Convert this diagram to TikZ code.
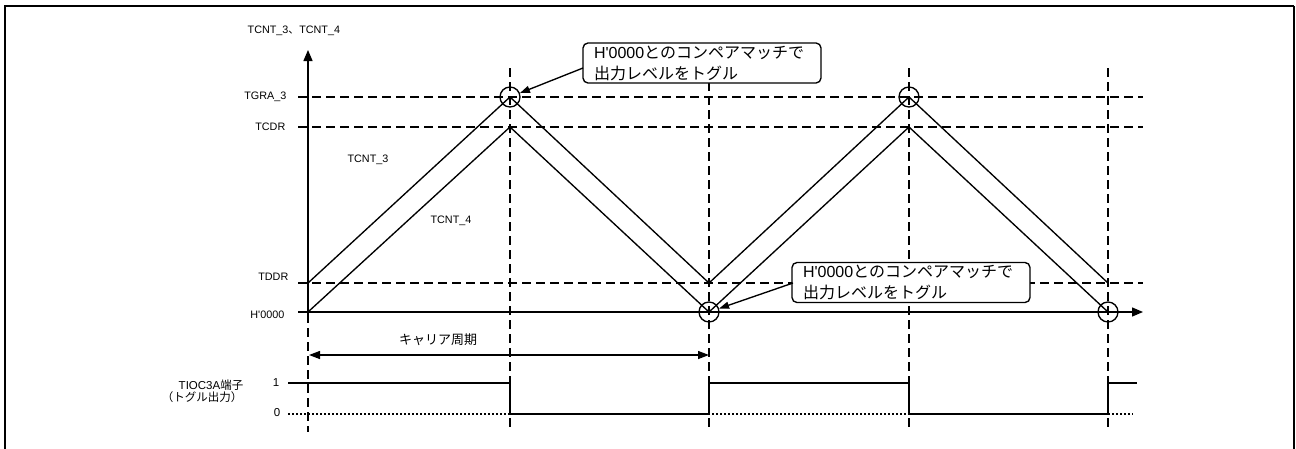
\documentclass[tikz,border=0pt]{standalone}
\usepackage{fontspec}
\setmainfont{Liberation Sans}
\newfontfamily\lat{Liberation Sans}
\newfontfamily\jp{Noto Sans CJK JP}
\usetikzlibrary{arrows.meta}
\begin{document}
\begin{tikzpicture}[x=1pt,y=-1pt,line width=1.35pt,
  dsh/.style={dash pattern=on 9pt off 5pt,line width=1.35pt},
  dotl/.style={dash pattern=on 2pt off 2pt,line width=1.2pt},
  tipa/.style={-{Triangle[length=11pt,width=9pt]}},
  tipb/.style={-{Triangle[length=10pt,width=7pt]}},
  dbl/.style={{Triangle[length=11pt,width=8pt]}-{Triangle[length=11pt,width=8pt]}},
  lbl/.style={font=\fontsize{10.8}{12}\selectfont,inner sep=0pt},
  big/.style={font=\fontsize{11.5}{12}\selectfont,inner sep=0pt},
  call/.style={draw,fill=white,rounded corners=5pt,line width=1.35pt,align=left,
    font=\fontsize{16}{21}\selectfont,text width=216pt,
    minimum height=40pt,inner xsep=11pt,inner ysep=1pt},
  ring/.style={draw,circle,minimum size=20pt,inner sep=0pt,line width=1.35pt}]
\useasboundingbox (0,0) rectangle (1296,448);
\fill[white] (0,0) rectangle (1296,448);
% frame
\draw[line width=2.2pt] (5,449) -- (5,6) -- (1294,6);
\draw[line width=1.3pt] (1294,6) -- (1294,449);

% coordinates
\coordinate (yTop) at (308,50);
\coordinate (o) at (308,314);
\coordinate (oB) at (308,432);
\coordinate (aL) at (298,97);  \coordinate (aR) at (1143,97);
\coordinate (cL) at (298,127); \coordinate (cR) at (1143,127);
\coordinate (dL) at (298,283); \coordinate (dR) at (1143,283);
\coordinate (zL) at (298,312); \coordinate (zR) at (1143,312);
\foreach \n/\x in {1/510,2/709,3/909,4/1108}{
  \coordinate (vT\n) at (\x,68);
  \coordinate (vB\n) at (\x,430);
}

% dashed reference lines
\draw[dsh] (aL) -- (aR);
\draw[dsh] (cL) -- (cR);
\draw[dsh] (dL) -- (dR);
\foreach \n in {1,2,3,4}{\draw[dsh] (vT\n) -- (vB\n);}
\draw[dsh] (o) -- (oB);

% axes
\draw[tipa] (o) -- (yTop);
\draw[tipa] (zL) -- (zR);

% counters
\coordinate (t3a) at (308,283);
\coordinate (t3b) at (510,97);
\coordinate (t3c) at (709,283);
\coordinate (t3d) at (909,97);
\coordinate (t3e) at (1108,283);
\draw (t3a) -- (t3b) -- (t3c) -- (t3d) -- (t3e);
\coordinate (t4a) at (308,312);
\coordinate (t4b) at (510,127);
\coordinate (t4c) at (709,312);
\coordinate (t4d) at (909,127);
\coordinate (t4e) at (1108,312);
\draw (t4a) -- (t4b) -- (t4c) -- (t4d) -- (t4e);

% rings
\node[ring] (r1) at (510,97) {};
\node[ring] (r2) at (709,312) {};
\node[ring] (r3) at (909,97) {};
\node[ring] (r4) at (1108,312) {};

% axis labels
\node[lbl,anchor=west] (ylab) at (247,31) {TCNT\_3{\jp 、}TCNT\_4};
\node[lbl,anchor=east] (lA) at (287,97) {TGRA\_3};
\node[lbl,anchor=east] (lC) at (286,127) {TCDR};
\node[lbl,anchor=east] (lD) at (289,277) {TDDR};
\node[lbl,anchor=east] (lZ) at (285,315) {\lat H'0000};
\node[lbl] (n3) at (368,160) {TCNT\_3};
\node[lbl] (n4) at (451,221) {TCNT\_4};

% callouts
\node[call] (c1) at (702,63) {\lat H'0000{\jp とのコンペアマッチで}\\{\jp 出力レベルをトグル}};
\node[call] (c2) at (911,282.5) {\lat H'0000{\jp とのコンペアマッチで}\\{\jp 出力レベルをトグル}};
\coordinate (c1a) at (583,68);
\coordinate (c2a) at (793,283);
\draw[tipb] (c1a) -- (r1);
\draw[tipb] (c2a) -- (r2);

% carrier period
\coordinate (pL) at (309,355);
\coordinate (pR) at (709,355);
\draw[dbl] (pL) -- (pR);
\node[inner sep=0pt,font=\jp\fontsize{13}{14}\selectfont] (cp) at (438,340) {キャリア周期};

% output signal
\node[big] (pin1) at (211,385) {TIOC3A{\jp 端子}};
\node[big] (pin2) at (202,397) {\jp （トグル出力）};
\node[big] (one) at (276,383) {1};
\node[big] (zero) at (277,413) {0};
\coordinate (s0) at (288,383);
\coordinate (s1) at (510,383);
\coordinate (s2) at (510,414);
\coordinate (s3) at (709,414);
\coordinate (s4) at (709,383);
\coordinate (s5) at (909,383);
\coordinate (s6) at (909,414);
\coordinate (s7) at (1108,414);
\coordinate (s8) at (1108,383);
\coordinate (s9) at (1137,383);
\coordinate (dz0) at (288,414);
\coordinate (dz1) at (1133,414);
\draw[dotl] (dz0) -- (dz1);
\draw (s0) -- (s1) -- (s2) -- (s3) -- (s4) -- (s5) -- (s6) -- (s7) -- (s8) -- (s9);
\end{tikzpicture}
\end{document}
